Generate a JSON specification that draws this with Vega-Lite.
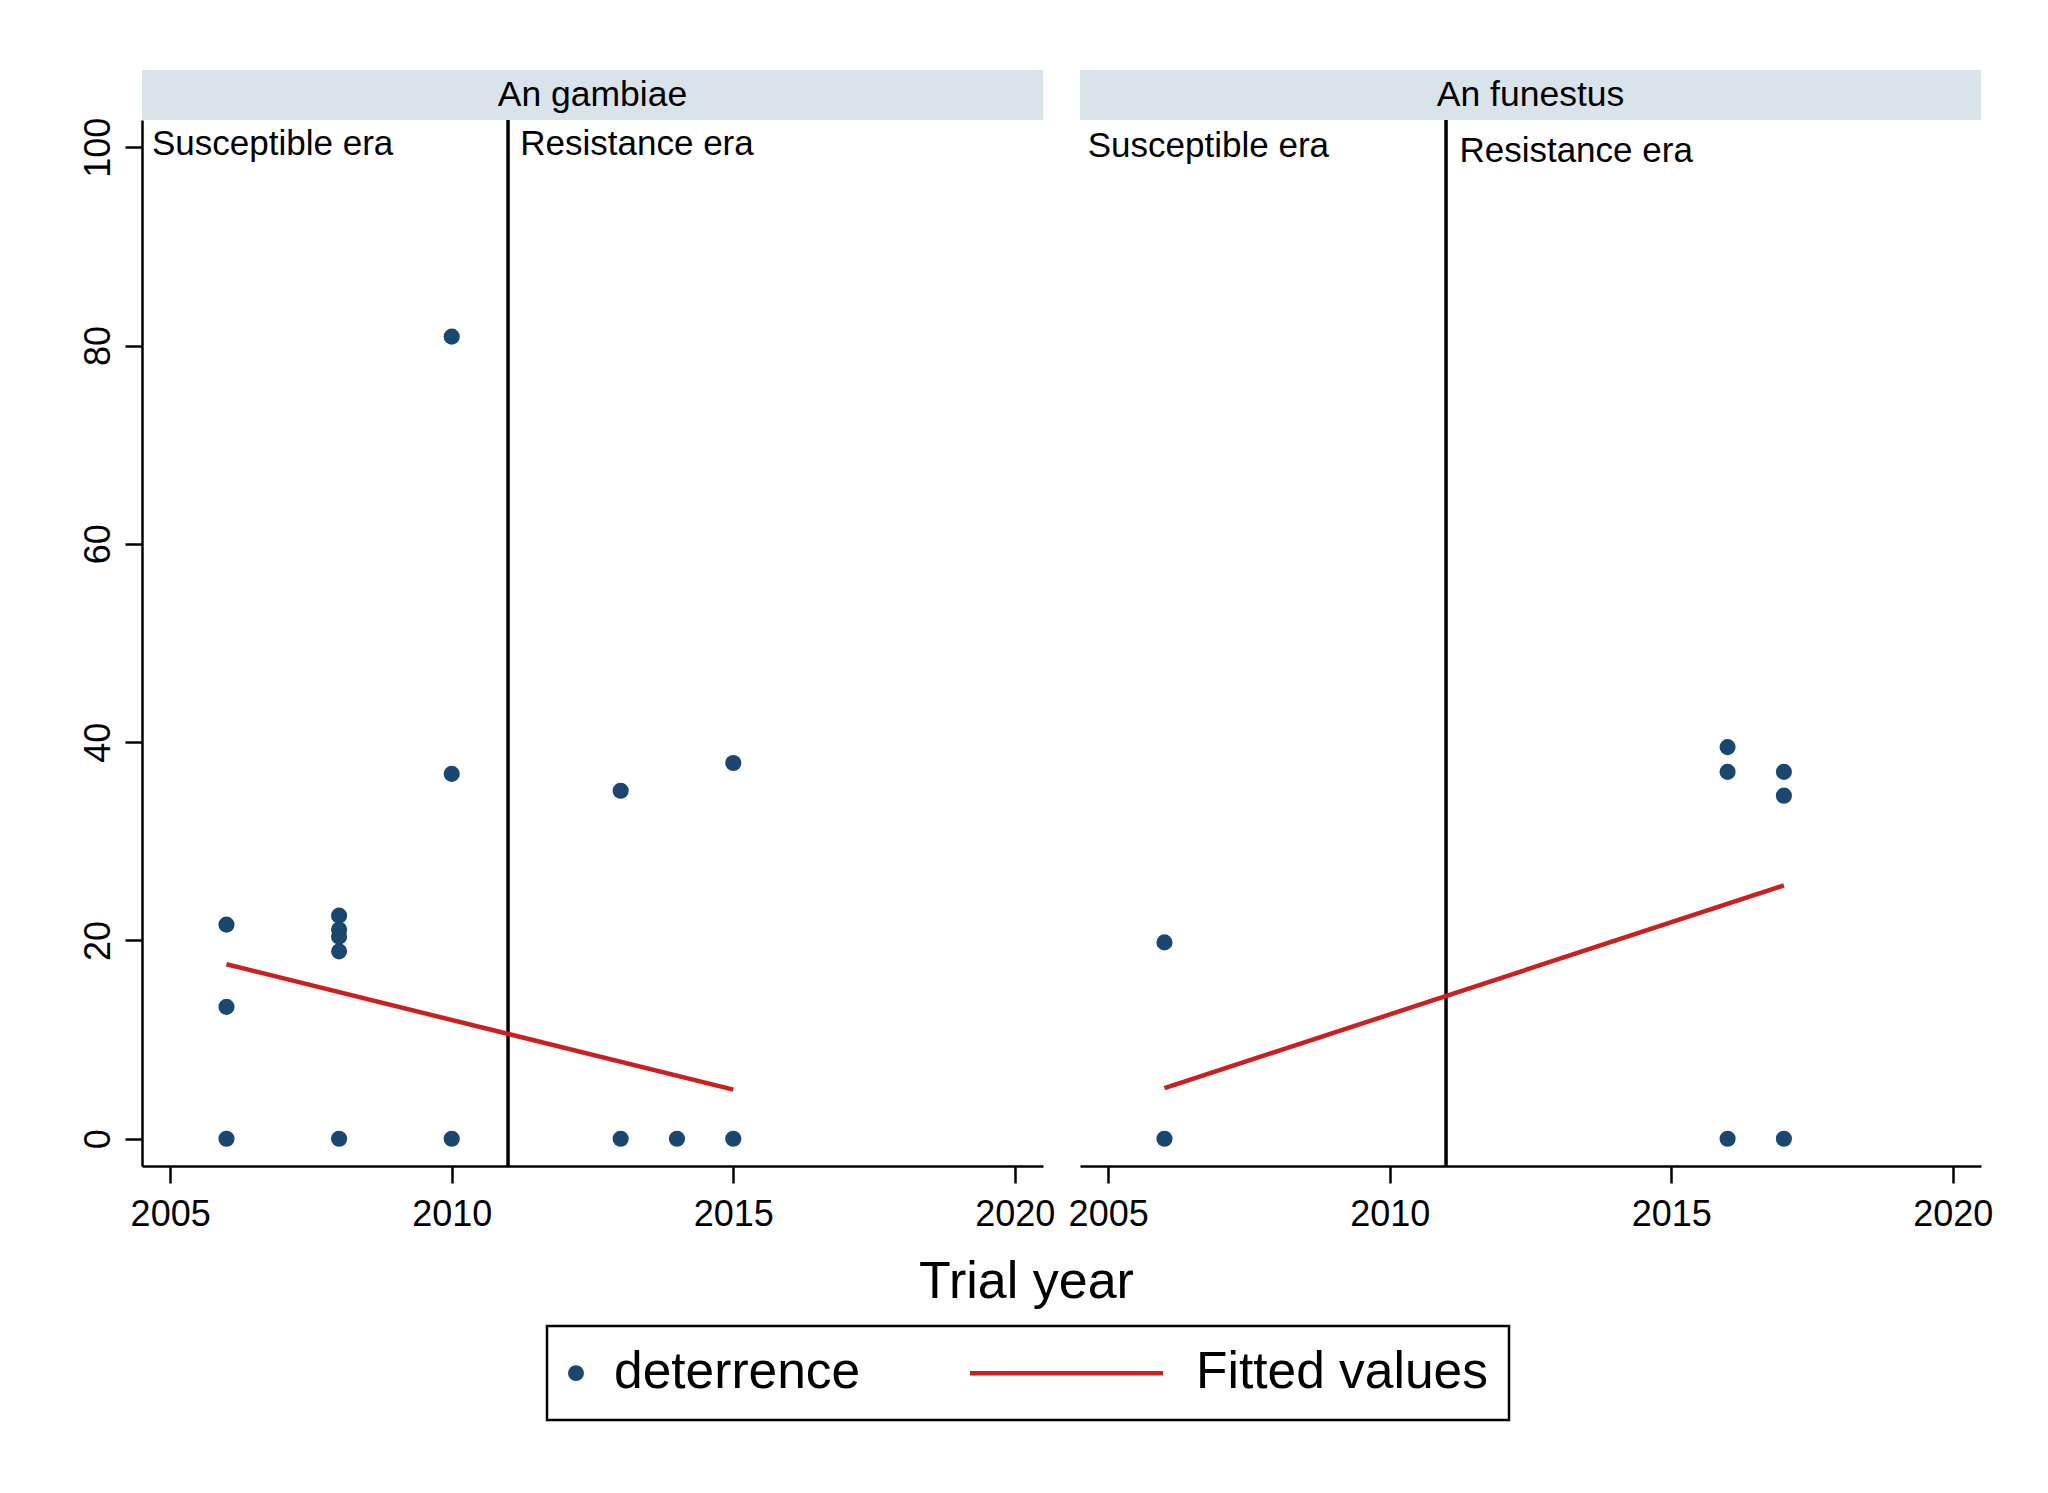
{
  "$schema": "https://vega.github.io/schema/vega-lite/v6.json",
  "background": "white",
  "padding": {"left": 79, "top": 70, "right": 20, "bottom": 20},
  "config": {
    "font": "Liberation Sans",
    "view": {"stroke": null},
    "axis": {
      "domainColor": "black", "domainWidth": 2.5,
      "tickColor": "black", "tickWidth": 2.5, "tickSize": 17,
      "labelColor": "black", "labelFontSize": 36, "labelFont": "Liberation Sans",
      "titleFont": "Liberation Sans", "titleColor": "black", "titleFontWeight": "normal",
      "grid": false
    },
    "legend": {
      "labelFont": "Liberation Sans", "labelFontSize": 51.5, "labelColor": "black", "labelLimit": 0,
      "strokeWidth": 2.5
    }
  },
  "datasets": {
    "hdr": [{"panel": "An gambiae"}, {"panel": "An funestus"}],
    "era": [{"panel": "An gambiae", "year": 2011}, {"panel": "An funestus", "year": 2011}],
    "notes": [
      {"panel": "An gambiae", "label": "Susceptible era", "x": 2006.82, "y": 100.3},
      {"panel": "An gambiae", "label": "Resistance era", "x": 2013.29, "y": 100.3},
      {"panel": "An funestus", "label": "Susceptible era", "x": 2006.78, "y": 100.1},
      {"panel": "An funestus", "label": "Resistance era", "x": 2013.31, "y": 99.6}
    ],
    "pts": [
      {"panel": "An gambiae", "year": 2006, "value": 21.6, "series": "deterrence"},
      {"panel": "An gambiae", "year": 2006, "value": 13.3, "series": "deterrence"},
      {"panel": "An gambiae", "year": 2006, "value": 0, "series": "deterrence"},
      {"panel": "An gambiae", "year": 2008, "value": 22.5, "series": "deterrence"},
      {"panel": "An gambiae", "year": 2008, "value": 21.1, "series": "deterrence"},
      {"panel": "An gambiae", "year": 2008, "value": 20.4, "series": "deterrence"},
      {"panel": "An gambiae", "year": 2008, "value": 18.9, "series": "deterrence"},
      {"panel": "An gambiae", "year": 2008, "value": 0, "series": "deterrence"},
      {"panel": "An gambiae", "year": 2010, "value": 80.9, "series": "deterrence"},
      {"panel": "An gambiae", "year": 2010, "value": 36.8, "series": "deterrence"},
      {"panel": "An gambiae", "year": 2010, "value": 0, "series": "deterrence"},
      {"panel": "An gambiae", "year": 2013, "value": 35.1, "series": "deterrence"},
      {"panel": "An gambiae", "year": 2013, "value": 0, "series": "deterrence"},
      {"panel": "An gambiae", "year": 2014, "value": 0, "series": "deterrence"},
      {"panel": "An gambiae", "year": 2015, "value": 37.9, "series": "deterrence"},
      {"panel": "An gambiae", "year": 2015, "value": 0, "series": "deterrence"},
      {"panel": "An funestus", "year": 2006, "value": 19.8, "series": "deterrence"},
      {"panel": "An funestus", "year": 2006, "value": 0, "series": "deterrence"},
      {"panel": "An funestus", "year": 2016, "value": 39.5, "series": "deterrence"},
      {"panel": "An funestus", "year": 2016, "value": 37.0, "series": "deterrence"},
      {"panel": "An funestus", "year": 2016, "value": 0, "series": "deterrence"},
      {"panel": "An funestus", "year": 2017, "value": 37.0, "series": "deterrence"},
      {"panel": "An funestus", "year": 2017, "value": 34.6, "series": "deterrence"},
      {"panel": "An funestus", "year": 2017, "value": 0, "series": "deterrence"}
    ],
    "fit": [
      {"panel": "An gambiae", "year": 2006, "fit": 17.6, "series": "Fitted values"},
      {"panel": "An gambiae", "year": 2015, "fit": 4.95, "series": "Fitted values"},
      {"panel": "An funestus", "year": 2006, "fit": 5.1, "series": "Fitted values"},
      {"panel": "An funestus", "year": 2017, "fit": 25.55, "series": "Fitted values"}
    ]
  },
  "columns": 2,
  "spacing": {"row": 0, "column": 37},
  "bounds": "flush",
  "concat": [
    {
      "width": 901, "height": 50,
      "view": {"fill": "#d9e4ea", "stroke": null},
      "data": {"name": "hdr"},
      "transform": [{"filter": "datum.panel === 'An gambiae'"}],
      "mark": {"type": "text", "fontSize": 35.5, "color": "black", "baseline": "middle", "align": "center"},
      "encoding": {"text": {"field": "panel", "type": "nominal"}}
    },
    {
      "width": 901, "height": 50,
      "view": {"fill": "#d9e4ea", "stroke": null},
      "data": {"name": "hdr"},
      "transform": [{"filter": "datum.panel === 'An funestus'"}],
      "mark": {"type": "text", "fontSize": 35.5, "color": "black", "baseline": "middle", "align": "center"},
      "encoding": {"text": {"field": "panel", "type": "nominal"}}
    },
    {
      "width": 901, "height": 1046,
      "layer": [
        {
          "data": {"name": "era"},
          "transform": [{"filter": "datum.panel === 'An gambiae'"}],
          "mark": {"type": "rule", "color": "black", "strokeWidth": 3.5},
          "encoding": {
            "x": {"field": "year", "type": "quantitative",
              "scale": {"domain": [2004.5, 2020.5], "nice": false, "zero": false},
              "axis": {"values": [2005, 2010, 2015, 2020], "format": "d", "title": "Trial year",
                "titleX": 884, "titleY": 131, "titleBaseline": "alphabetic", "titleFontSize": 52,
                "labelFlush": false, "labelOverlap": false, "labelBaseline": "alphabetic", "labelPadding": 42}}
          }
        },
        {
          "data": {"name": "notes"},
          "transform": [{"filter": "datum.panel === 'An gambiae'"}],
          "mark": {"type": "text", "fontSize": 35, "color": "black", "align": "center", "baseline": "middle"},
          "encoding": {
            "x": {"field": "x", "type": "quantitative"},
            "y": {"field": "y", "type": "quantitative",
              "scale": {"domain": [-2.75, 102.75], "nice": false, "zero": false},
              "axis": {"values": [0, 20, 40, 60, 80, 100], "title": null, "labelAngle": 270,
                "labelAlign": "center", "labelBaseline": "alphabetic", "labelPadding": 16}},
            "text": {"field": "label", "type": "nominal"}
          }
        },
        {
          "data": {"name": "pts"},
          "transform": [{"filter": "datum.panel === 'An gambiae'"}],
          "mark": {"type": "point", "filled": true, "size": 260, "opacity": 1},
          "encoding": {
            "x": {"field": "year", "type": "quantitative"},
            "y": {"field": "value", "type": "quantitative"},
            "shape": {"field": "series", "type": "nominal",
              "scale": {"domain": ["deterrence", "Fitted values"], "range": ["circle", "M-32.72,0H0.87"]},
              "legend": {"title": null, "orient": "none", "legendX": 405, "legendY": 1256}},
            "color": {"field": "series", "type": "nominal",
              "scale": {"domain": ["deterrence", "Fitted values"], "range": ["#1a476f", "#cc2020"]},
              "legend": {
                "title": null, "orient": "none", "legendX": 405, "legendY": 1256,
                "direction": "horizontal", "padding": 21, "columnPadding": 100,
                "strokeColor": "black", "fillColor": "white",
                "symbolSize": 132, "symbolStrokeWidth": 4.5,
                "symbolOffset": -17.75, "labelOffset": 12.25,
                "labelBaseline": "middle"
              }}
          }
        },
        {
          "data": {"name": "fit"},
          "transform": [{"filter": "datum.panel === 'An gambiae'"}],
          "mark": {"type": "line", "strokeWidth": 4.5},
          "encoding": {
            "x": {"field": "year", "type": "quantitative"},
            "y": {"field": "fit", "type": "quantitative"},
            "color": {"field": "series", "type": "nominal"}
          }
        }
      ]
    },
    {
      "width": 901, "height": 1046,
      "layer": [
        {
          "data": {"name": "era"},
          "transform": [{"filter": "datum.panel === 'An funestus'"}],
          "mark": {"type": "rule", "color": "black", "strokeWidth": 3.5},
          "encoding": {
            "x": {"field": "year", "type": "quantitative",
              "scale": {"domain": [2004.5, 2020.5], "nice": false, "zero": false},
              "axis": {"values": [2005, 2010, 2015, 2020], "format": "d", "title": null,
                "labelFlush": false, "labelOverlap": false, "labelBaseline": "alphabetic", "labelPadding": 42}}
          }
        },
        {
          "data": {"name": "notes"},
          "transform": [{"filter": "datum.panel === 'An funestus'"}],
          "mark": {"type": "text", "fontSize": 35, "color": "black", "align": "center", "baseline": "middle"},
          "encoding": {
            "x": {"field": "x", "type": "quantitative"},
            "y": {"field": "y", "type": "quantitative",
              "scale": {"domain": [-2.75, 102.75], "nice": false, "zero": false},
              "axis": null},
            "text": {"field": "label", "type": "nominal"}
          }
        },
        {
          "data": {"name": "pts"},
          "transform": [{"filter": "datum.panel === 'An funestus'"}],
          "mark": {"type": "point", "filled": true, "size": 260, "opacity": 1},
          "encoding": {
            "x": {"field": "year", "type": "quantitative"},
            "y": {"field": "value", "type": "quantitative"},
            "shape": {"field": "series", "type": "nominal"},
            "color": {"field": "series", "type": "nominal"}
          }
        },
        {
          "data": {"name": "fit"},
          "transform": [{"filter": "datum.panel === 'An funestus'"}],
          "mark": {"type": "line", "strokeWidth": 4.5},
          "encoding": {
            "x": {"field": "year", "type": "quantitative"},
            "y": {"field": "fit", "type": "quantitative"},
            "color": {"field": "series", "type": "nominal"}
          }
        }
      ]
    }
  ]
}
